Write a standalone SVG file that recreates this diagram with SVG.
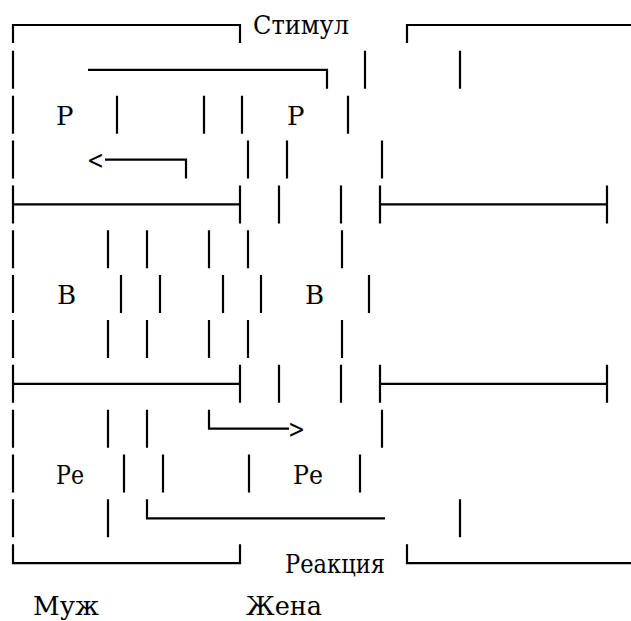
<svg xmlns="http://www.w3.org/2000/svg" width="631" height="621" viewBox="0 0 631 621">
<style>
.l{fill:none;stroke:#000;stroke-width:2.2;stroke-linecap:butt;stroke-linejoin:miter}
</style>
<rect width="631" height="621" fill="#fff"/>
<g font-family="DejaVu Serif, Liberation Serif, Times New Roman, serif" font-size="26" fill="#000">
<g id="husband">
<path class="l" d="M13,43 V25 H240 V43"/>
<path class="l" d="M13,50.85 v38 M13,95.7 v38 M13,140.55 v38 M13,185.4 v38 M13,230.25 v38 M13,275.1 v38 M13,319.95 v38 M13,364.8 v38 M13,409.65 v38 M13,454.5 v38 M13,499.35 v38"/>
<path class="l" d="M13,204.4 H240 M240,185.4 v38 M13,383.8 H240 M240,364.8 v38"/>
<path class="l" d="M13,544.2 V563.2 H240 V544.2"/>
<text x="56" y="124.5">Р</text>
<text x="57" y="304">В</text>
<text x="56" y="483.5" textLength="28" lengthAdjust="spacingAndGlyphs">Ре</text>
<text x="33" y="615" textLength="66" lengthAdjust="spacingAndGlyphs">Муж</text>
</g>
<g id="wife">
<path class="l" d="M407,43 V25 H631"/>
<path class="l" d="M380,185.4 v38 M380,204.4 H607 M607,185.4 v38"/>
<path class="l" d="M380,364.8 v38 M380,383.8 H607 M607,364.8 v38"/>
<path class="l" d="M407,544.2 V563.2 H631"/>
<text x="287" y="124.5">Р</text>
<text x="305" y="304">В</text>
<text x="293" y="483.5" textLength="30" lengthAdjust="spacingAndGlyphs">Ре</text>
<text x="246" y="615" textLength="76" lengthAdjust="spacingAndGlyphs">Жена</text>
</g>
<g id="stimulus"><text x="253" y="33.5" textLength="96" lengthAdjust="spacingAndGlyphs">Стимул</text></g>
<g id="reaction"><text x="285" y="573" textLength="100" lengthAdjust="spacingAndGlyphs">Реакция</text></g>
<g id="connectors">
<path class="l" d="M88,69.85 H327 V88.85"/>
<path class="l" d="M365,50.85 v38 M460,50.85 v38"/>
<path class="l" d="M117,95.7 v38 M204,95.7 v38 M242,95.7 v38 M348,95.7 v38"/>
<text x="87" y="169" textLength="17" lengthAdjust="spacingAndGlyphs">&lt;</text>
<path class="l" d="M105,159.55 H186 V178.55"/>
<path class="l" d="M248,140.55 v38 M287,140.55 v38 M382,140.55 v38"/>
<path class="l" d="M279,185.4 v38 M341,185.4 v38"/>
<path class="l" d="M108,230.25 v38 M147,230.25 v38 M209,230.25 v38 M248,230.25 v38 M342,230.25 v38"/>
<path class="l" d="M121,275.1 v38 M160,275.1 v38 M223,275.1 v38 M261,275.1 v38 M369,275.1 v38"/>
<path class="l" d="M108,319.95 v38 M147,319.95 v38 M209,319.95 v38 M248,319.95 v38 M342,319.95 v38"/>
<path class="l" d="M279,364.8 v38 M341,364.8 v38"/>
<path class="l" d="M108,409.65 v38 M147,409.65 v38 M382,409.65 v38"/>
<path class="l" d="M209,409.65 V428.65 H289"/>
<text x="288" y="438" textLength="17" lengthAdjust="spacingAndGlyphs">&gt;</text>
<path class="l" d="M124,454.5 v38 M163,454.5 v38 M249,454.5 v38 M360,454.5 v38"/>
<path class="l" d="M108,499.35 v38 M460,499.35 v38"/>
<path class="l" d="M147,499.35 V518.35 H385"/>
</g>
</g>
</svg>
